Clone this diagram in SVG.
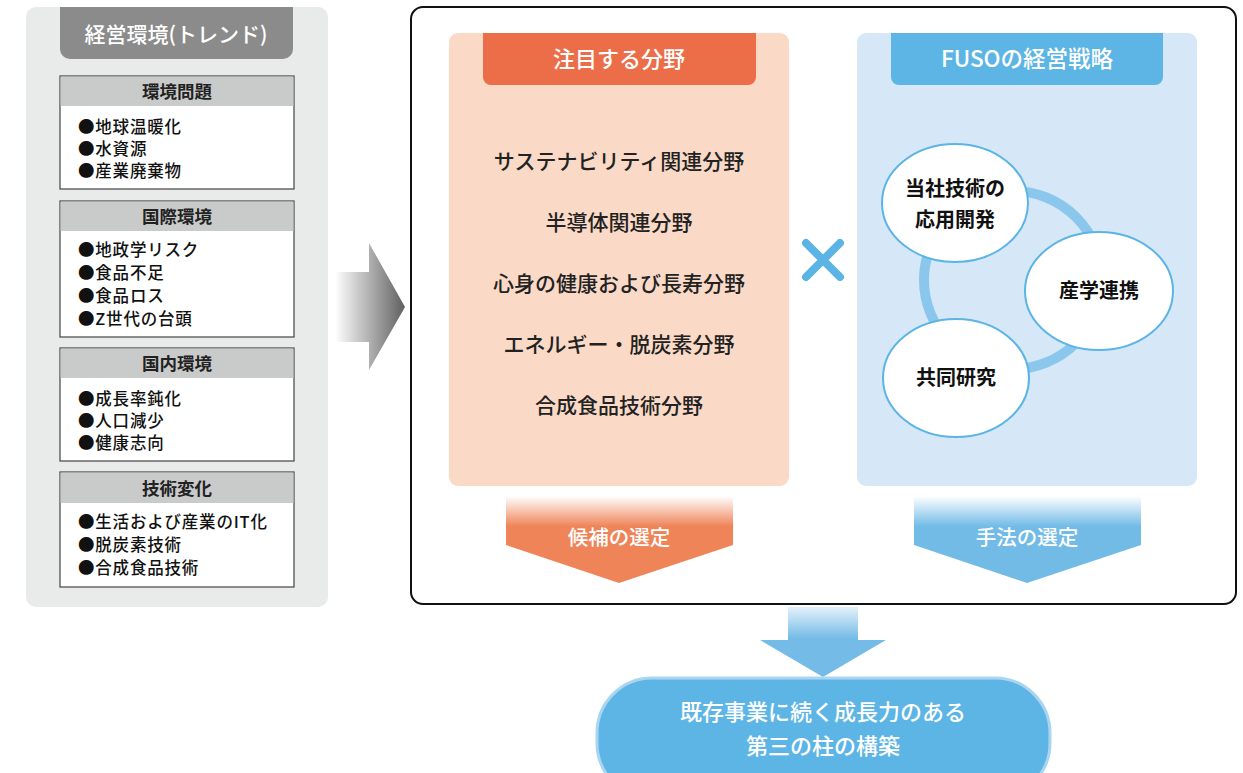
<svg xmlns="http://www.w3.org/2000/svg" width="1243" height="773" viewBox="0 0 1243 773">
<style>
text{font-family:"Noto Sans CJK JP","Noto Sans",sans-serif;}
.hd{font-size:17.5px;font-weight:bold;fill:#222;text-anchor:middle;}
.it{font-size:16.5px;fill:#111;font-weight:500;letter-spacing:0.8px;}
.box{fill:#fff;stroke:#444;stroke-width:1.2;}
.hbg{fill:#c9caca;}
.fld{font-size:21px;fill:#222;text-anchor:middle;font-weight:500;}
.wt{fill:#fff;text-anchor:middle;font-weight:500;}
.el{fill:#fff;stroke:#5ab4e5;stroke-width:2;}
.et{font-size:20px;font-weight:bold;fill:#111;text-anchor:middle;}
</style>
<defs>
<linearGradient id="gArr" x1="0" x2="1" y1="0" y2="0"><stop offset="0" stop-color="#fff"/><stop offset="1" stop-color="#5f5f5f"/></linearGradient>
<linearGradient id="gOr" x1="0" x2="0" y1="0" y2="1"><stop offset="0" stop-color="#fff"/><stop offset="0.35" stop-color="#ef8459"/><stop offset="1" stop-color="#ef8459"/></linearGradient>
<linearGradient id="gBl" x1="0" x2="0" y1="0" y2="1"><stop offset="0" stop-color="#fff"/><stop offset="0.35" stop-color="#72bbe7"/><stop offset="1" stop-color="#72bbe7"/></linearGradient>
<linearGradient id="gDn" x1="0" x2="0" y1="0" y2="1"><stop offset="0" stop-color="#e4f1fb"/><stop offset="0.45" stop-color="#74bce7"/><stop offset="1" stop-color="#74bce7"/></linearGradient>
</defs>

<g id="trends">
<rect x="26" y="7" width="302" height="600" rx="10" fill="#e9eaea"/>
<path d="M60 7 H293 V49 a10 10 0 0 1 -10 10 H70 a10 10 0 0 1 -10 -10 Z" fill="#8b8b8b"/>
<text x="176" y="42" class="wt" font-size="21">経営環境(トレンド)</text>
</g>

<g id="env">
<rect class="box" x="60" y="76" width="234" height="113"/>
<rect class="hbg" x="60.6" y="76.6" width="232.8" height="29.4"/>
<text class="hd" x="177" y="98">環境問題</text>
<text class="it" x="78" y="133">●地球温暖化</text>
<text class="it" x="78" y="155">●水資源</text>
<text class="it" x="78" y="177">●産業廃棄物</text>
</g>

<g id="intl">
<rect class="box" x="60" y="201" width="234" height="136"/>
<rect class="hbg" x="60.6" y="201.6" width="232.8" height="29.4"/>
<text class="hd" x="177" y="223">国際環境</text>
<text class="it" x="78" y="256">●地政学リスク</text>
<text class="it" x="78" y="279">●食品不足</text>
<text class="it" x="78" y="302">●食品ロス</text>
<text class="it" x="78" y="325">●Z世代の台頭</text>
</g>

<g id="domestic">
<rect class="box" x="60" y="348" width="234" height="113"/>
<rect class="hbg" x="60.6" y="348.6" width="232.8" height="29.4"/>
<text class="hd" x="177" y="370">国内環境</text>
<text class="it" x="78" y="405">●成長率鈍化</text>
<text class="it" x="78" y="427">●人口減少</text>
<text class="it" x="78" y="449">●健康志向</text>
</g>

<g id="tech">
<rect class="box" x="60" y="472" width="234" height="115"/>
<rect class="hbg" x="60.6" y="472.6" width="232.8" height="30.4"/>
<text class="hd" x="177" y="495">技術変化</text>
<text class="it" x="78" y="528">●生活および産業のIT化</text>
<text class="it" x="78" y="551">●脱炭素技術</text>
<text class="it" x="78" y="574">●合成食品技術</text>
</g>

<g id="connectors">
<path d="M335 272 H369 V243 L405 307 L369 370 V342 H335 Z" fill="url(#gArr)"/>
<path d="M506 496 H733 V545 L619 583 L506 545 Z" fill="url(#gOr)"/>
<path d="M914 496 H1141 V545 L1027 583 L914 545 Z" fill="url(#gBl)"/>
<path d="M788 607 H858 V640 H886 L823 677 L760 640 H788 Z" fill="url(#gDn)"/>
</g>

<g id="main">
<rect x="411" y="7" width="825" height="597" rx="12" fill="none" stroke="#111" stroke-width="2"/>
</g>

<g id="focus">
<rect x="449" y="33" width="340" height="453" rx="9" fill="#fadac7"/>
<path d="M483 33 H756 V77 a8 8 0 0 1 -8 8 H491 a8 8 0 0 1 -8 -8 Z" fill="#ec6e49"/>
<text x="619" y="67" class="wt" font-size="22">注目する分野</text>
<text class="fld" x="619" y="169">サステナビリティ関連分野</text>
<text class="fld" x="619" y="230">半導体関連分野</text>
<text class="fld" x="619" y="291">心身の健康および長寿分野</text>
<text class="fld" x="619" y="352">エネルギー・脱炭素分野</text>
<text class="fld" x="619" y="413">合成食品技術分野</text>
</g>

<g id="cross">
<path d="M806 243 L840 277 M840 243 L806 277" stroke="#5ab4e5" stroke-width="8" stroke-linecap="round"/>
</g>

<g id="strategy">
<rect x="857" y="33" width="340" height="453" rx="9" fill="#d6e8f8"/>
<path d="M891 33 H1163 V77 a8 8 0 0 1 -8 8 H899 a8 8 0 0 1 -8 -8 Z" fill="#5db5e5"/>
<text x="1027" y="67" class="wt" font-size="22.5">FUSOの経営戦略</text>
<circle cx="1013" cy="280" r="89" fill="none" stroke="#8bc7ec" stroke-width="10"/>
</g>

<g id="node-apply">
<ellipse class="el" cx="955" cy="203" rx="73" ry="59"/>
<text class="et" x="955" y="196">当社技術の</text>
<text class="et" x="955" y="227">応用開発</text>
</g>
<g id="node-industry">
<ellipse class="el" cx="1099" cy="291" rx="74" ry="59"/>
<text class="et" x="1099" y="298">産学連携</text>
</g>
<g id="node-joint">
<ellipse class="el" cx="956" cy="378" rx="73" ry="59"/>
<text class="et" x="956" y="385">共同研究</text>
</g>

<g id="labels">
<text x="619" y="545" class="wt" font-size="20.5">候補の選定</text>
<text x="1027" y="545" class="wt" font-size="20.5">手法の選定</text>
</g>

<g id="result">
<rect x="597" y="678" width="453" height="120" rx="55" fill="#5db5e5" stroke="#a9d5f1" stroke-width="3"/>
<text x="823" y="720" class="wt" font-size="22">既存事業に続く成長力のある</text>
<text x="823" y="754" class="wt" font-size="22">第三の柱の構築</text>
</g>
</svg>
